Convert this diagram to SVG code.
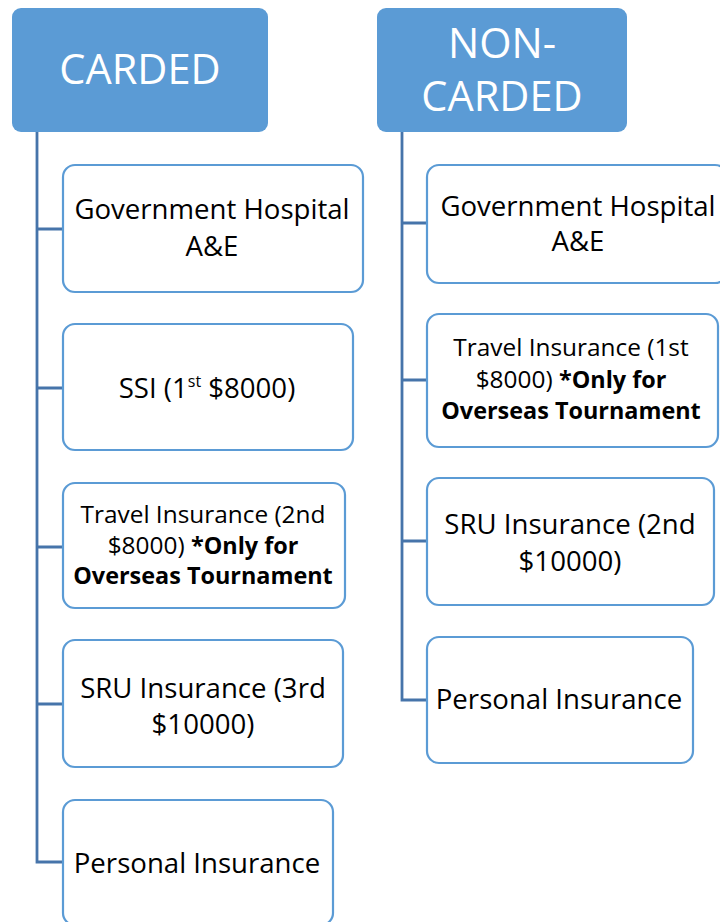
<svg xmlns="http://www.w3.org/2000/svg" width="720" height="922" viewBox="0 0 720 922">
  <style>
    .head { fill: #5B9BD5; }
    .head-text { fill: #FFFFFF; font-family: "Open Sans", "Noto Sans", sans-serif; font-size: 41.5px; text-anchor: middle; }
    .box { fill: #FFFFFF; stroke: #5B9BD5; stroke-width: 2.2; }
    .label { fill: #000000; font-family: "Open Sans", "Noto Sans", sans-serif; font-size: 27.6px; text-anchor: middle; }
    .small { font-size: 24.4px; }
    .b { font-weight: 700; font-size: 23.4px; }
    .sup { font-size: 16px; }
    .wire { fill: none; stroke: #4674AA; stroke-width: 2.8; }
  </style>

  <rect width="720" height="922" fill="#FFFFFF"/>

  <!-- connectors -->
  <g id="connectors">
    <path class="wire" d="M37,132 V862 H63 M37,229 H63 M37,388 H63 M37,547 H63 M37,704 H63"/>
    <path class="wire" d="M402,132 V700 H427 M402,223 H427 M402,380 H427 M402,541 H427"/>
  </g>

  <!-- left column -->
  <g id="carded">
    <rect class="head" x="12" y="8" width="256" height="124" rx="9"/>
    <text class="head-text" x="140" y="84">CARDED</text>
  </g>
  <g id="c-gov">
    <rect class="box" x="63" y="165" width="300" height="127" rx="12"/>
    <text class="label" x="212" y="219">Government Hospital</text>
    <text class="label" x="212" y="256">A&amp;E</text>
  </g>
  <g id="c-ssi">
    <rect class="box" x="63" y="324" width="290" height="126" rx="12"/>
    <text class="label" x="207" y="398">SSI (1<tspan class="sup" dy="-11">st</tspan><tspan dy="11"> $8000)</tspan></text>
  </g>
  <g id="c-travel">
    <rect class="box" x="63" y="483" width="282" height="125" rx="12"/>
    <text class="label small" x="203" y="523">Travel Insurance (2nd</text>
    <text class="label small" x="203" y="554">$8000) <tspan class="b">*Only for</tspan></text>
    <text class="label small b" x="203" y="584">Overseas Tournament</text>
  </g>
  <g id="c-sru">
    <rect class="box" x="63" y="640" width="280" height="127" rx="12"/>
    <text class="label" x="203" y="698">SRU Insurance (3rd</text>
    <text class="label" x="203" y="734">$10000)</text>
  </g>
  <g id="c-personal">
    <rect class="box" x="63" y="800" width="270" height="125" rx="12"/>
    <text class="label" x="197" y="873">Personal Insurance</text>
  </g>

  <!-- right column -->
  <g id="non-carded">
    <rect class="head" x="377" y="8" width="250" height="124" rx="9"/>
    <text class="head-text" x="502" y="58">NON-</text>
    <text class="head-text" x="502" y="111">CARDED</text>
  </g>
  <g id="n-gov">
    <rect class="box" x="427" y="165" width="300" height="118" rx="12"/>
    <text class="label" x="578" y="216">Government Hospital</text>
    <text class="label" x="578" y="251">A&amp;E</text>
  </g>
  <g id="n-travel">
    <rect class="box" x="427" y="314" width="291" height="133" rx="12"/>
    <text class="label small" x="571" y="356">Travel Insurance (1st</text>
    <text class="label small" x="571" y="388">$8000) <tspan class="b">*Only for</tspan></text>
    <text class="label small b" x="571" y="419">Overseas Tournament</text>
  </g>
  <g id="n-sru">
    <rect class="box" x="427" y="478" width="287" height="127" rx="12"/>
    <text class="label" x="570" y="534">SRU Insurance (2nd</text>
    <text class="label" x="570" y="571">$10000)</text>
  </g>
  <g id="n-personal">
    <rect class="box" x="427" y="637" width="266" height="126" rx="12"/>
    <text class="label" x="559" y="709">Personal Insurance</text>
  </g>
</svg>
